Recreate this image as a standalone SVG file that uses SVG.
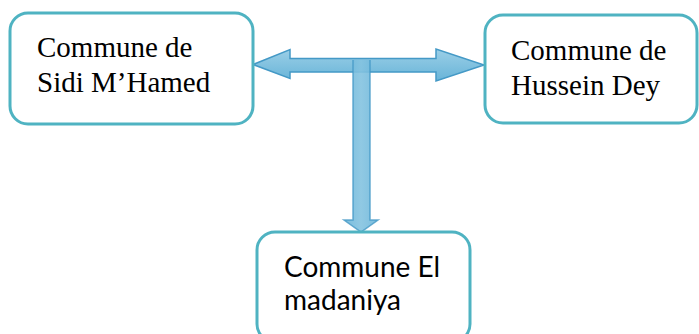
<svg xmlns="http://www.w3.org/2000/svg" width="699" height="334" viewBox="0 0 699 334">
  <style>
    .box { fill: #ffffff; stroke: #4fb3c2; stroke-width: 3; }
    .serif { font-family: "Liberation Serif", "Times New Roman", serif; font-size: 29px; fill: #000000; }
    .sans { font-family: Lato, "Open Sans", sans-serif; font-size: 28px; fill: #000000; }
    .arrow { fill: url(#ag); stroke: #4499c6; stroke-width: 1.5; stroke-linejoin: miter; }
  </style>
  <defs>
    <linearGradient id="ag" x1="0" y1="0" x2="0" y2="1">
      <stop offset="0" stop-color="#9bcfe7"/>
      <stop offset="1" stop-color="#68b4d8"/>
    </linearGradient>
    <linearGradient id="agv" x1="0" y1="0" x2="1" y2="0">
      <stop offset="0" stop-color="#6cb6da"/>
      <stop offset="0.5" stop-color="#84c3e0"/>
      <stop offset="1" stop-color="#6cb6da"/>
    </linearGradient>
  </defs>
  <g id="connectors">
    <path class="arrow" d="M253,64.5 L290,49.5 L290,58.5 L436,58.5 L436,49 L484,65 L436,81 L436,72 L290,72 L290,78.5 Z"/>
    <path d="M353,60 L370,60 L370,220 L378,220 L361,232 L344,220 L353,220 Z" fill="url(#agv)" fill-opacity="0.9"/>
    <path d="M353,60 L353,220 L344,220 L361,232 L378,220 L370,220 L370,60" fill="none" stroke="#4499c6" stroke-width="1.5" stroke-opacity="0.8"/>
  </g>
  <g id="node-sidi">
    <rect class="box" x="10" y="13" width="243" height="111" rx="18"/>
    <text class="serif" x="37" y="57">Commune de</text>
    <text class="serif" x="37" y="92">Sidi M’Hamed</text>
  </g>
  <g id="node-hussein">
    <rect class="box" x="485" y="15" width="212" height="108" rx="18"/>
    <text class="serif" x="511" y="60">Commune de</text>
    <text class="serif" x="511" y="95">Hussein Dey</text>
  </g>
  <g id="node-madaniya">
    <rect class="box" x="257" y="232" width="213" height="110" rx="18"/>
    <text class="sans" x="284" y="277">Commune El</text>
    <text class="sans" x="284" y="310">madaniya</text>
  </g>
</svg>
